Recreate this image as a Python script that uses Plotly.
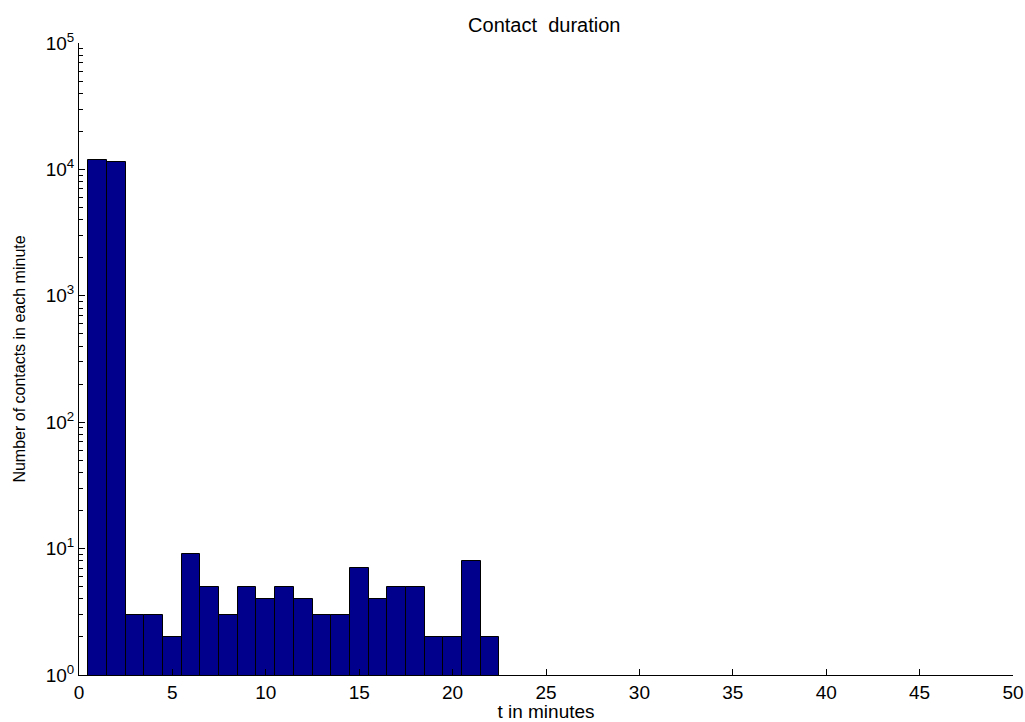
import plotly.graph_objects as go

minutes = list(range(1, 23))
counts = [11900, 11500, 3, 3, 2, 9, 5, 3, 5, 4, 5, 4, 3, 3, 7, 4, 5, 5, 2, 2, 8, 2]
x_ticks = [0, 5, 10, 15, 20, 25, 30, 35, 40, 45, 50]
y_ticks = [1, 10, 100, 1000, 10000, 100000]
y_labels = ["10<sup>0</sup>", "10<sup>1</sup>", "10<sup>2</sup>", "10<sup>3</sup>",
            "10<sup>4</sup>", "10<sup>5</sup>"]

fig = go.Figure()
fig.add_trace(go.Bar(
    x=minutes, y=counts, width=1.0,
    marker=dict(color="rgb(0,0,140)", line=dict(color="black", width=1)),
))

fam = "Liberation Sans, Arial, sans-serif"
fig.update_layout(
    width=1025, height=722,
    margin=dict(l=79, r=12, t=43, b=47, autoexpand=False),
    plot_bgcolor="white", paper_bgcolor="white",
    showlegend=False,
    bargap=0,
    font=dict(family=fam, size=18, color="black"),
    title=dict(text="Contact  duration", x=0.531, xanchor="center", y=1 - 25 / 722, yanchor="middle",
               font=dict(family=fam, size=20, color="black")),
)
fig.update_xaxes(
    range=[0, 50], tickvals=x_ticks, ticks="inside", ticklen=6, tickcolor="black",
    automargin=False,
    tickfont=dict(size=19),
    showline=True, linecolor="black", linewidth=1, showgrid=False, zeroline=False,
    title=dict(text="t in minutes", standoff=2, font=dict(size=19)),
)
fig.update_yaxes(
    type="log", range=[0, 5], tickvals=y_ticks, ticktext=y_labels,
    automargin=False,
    tickfont=dict(size=19),
    ticks="inside", ticklen=6, tickcolor="black",
    minor=dict(ticks="inside", ticklen=4, tickcolor="black", dtick="D1", showgrid=False),
    showline=True, linecolor="black", linewidth=1, showgrid=False, zeroline=False,
    title=dict(text="Number of contacts in each minute", standoff=16, font=dict(size=16)),
)

fig.write_html("out.html")
